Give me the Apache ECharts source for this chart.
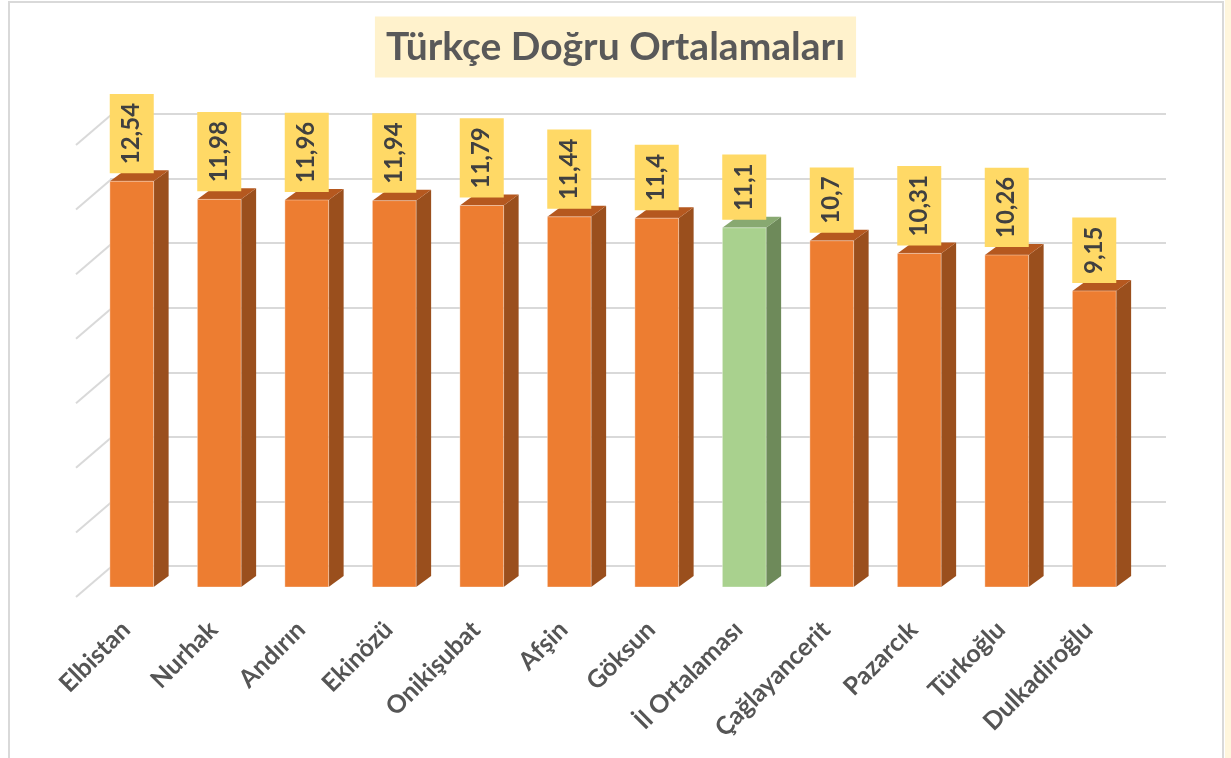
<!DOCTYPE html>
<html>
<head>
<meta charset="utf-8">
<title>Türkçe Doğru Ortalamaları</title>
<script src="https://cdn.jsdelivr.net/npm/echarts@6/dist/echarts.min.js"></script>
<style>
  html, body { margin: 0; padding: 0; background: #fff; }
  #main { width: 1231px; height: 758px; }
</style>
</head>
<body>
<div id="main"></div>
<script>
var names = ['Elbistan', 'Nurhak', 'Andırın', 'Ekinözü', 'Onikişubat', 'Afşin', 'Göksun', 'İl Ortalaması', 'Çağlayancerit', 'Pazarcık', 'Türkoğlu', 'Dulkadiroğlu']
var values = [12.54, 11.98, 11.96, 11.94, 11.79, 11.44, 11.4, 11.1, 10.7, 10.31, 10.26, 9.15]
var gridTicks = [0, 2, 4, 6, 8, 10, 12, 14]
var averageName = 'İl Ortalaması'

var orange = { front: '#ED7D31', side: '#9A4F1D', top: '#B5581F' }
var green = { front: '#A9D18E', side: '#6E8A5A', top: '#88A971' }
var depthX = 15
var depthY = -11

var myChart = echarts.init(document.querySelector('#main'))

function renderBar (params, api) {
  var i = api.value(0)
  var v = api.value(1)
  var top = api.coord([i, v])
  var base = api.coord([i, 0])
  var w = api.size([1, 0])[0] * 0.5
  var x0 = top[0] - w / 2
  var x1 = top[0] + w / 2
  var c = names[i] === averageName ? green : orange
  return {
    type: 'group',
    children: [
      { type: 'polygon', shape: { points: [[x1, top[1]], [x1 + depthX, top[1] + depthY], [x1 + depthX, base[1] + depthY], [x1, base[1]]] }, style: { fill: c.side } },
      { type: 'polygon', shape: { points: [[x0, top[1]], [x1, top[1]], [x1 + depthX, top[1] + depthY], [x0 + depthX, top[1] + depthY]] }, style: { fill: c.top } },
      { type: 'rect', shape: { x: x0, y: top[1], width: w, height: base[1] - top[1] }, style: { fill: c.front, stroke: 'rgba(255,255,255,0.35)', lineWidth: 1 } },
      {
        type: 'text',
        x: top[0],
        y: top[1] - 8,
        rotation: Math.PI / 2,
        z2: 10,
        style: {
          text: String(v).replace('.', ','),
          fill: '#404040',
          font: 'bold 24px Lato',
          align: 'left',
          verticalAlign: 'middle',
          lineHeight: 24,
          backgroundColor: '#FFD966',
          padding: [10, 9, 10, 9]
        }
      }
    ]
  }
}

// side wall gridlines going toward the viewer
function renderSideLine (params, api) {
  var p = api.coord([0, api.value(1)])
  return {
    type: 'line',
    shape: { x1: p[0] + 1, y1: p[1] + 1, x2: p[0] - 34, y2: p[1] + 31 },
    style: { stroke: '#D9D9D9', lineWidth: 2 }
  }
}

var option = {
  backgroundColor: '#fff',
  animation: false,
  title: {
    text: 'Türkçe Doğru Ortalamaları',
    left: 'center',
    top: 17,
    backgroundColor: '#FFF2CC',
    padding: [11, 11, 11, 11],
    textStyle: {
      fontFamily: 'Lato',
      fontWeight: 'bold',
      fontSize: 39,
      lineHeight: 38,
      color: '#595959'
    }
  },
  grid: [
    { left: 110, right: 65, top: 114, bottom: 192 },
    { left: 88, right: 93, top: 134, bottom: 171 }
  ],
  xAxis: [
    { gridIndex: 0, type: 'value', min: 0, max: 1, show: false },
    {
      gridIndex: 1,
      type: 'category',
      data: names,
      axisLine: { show: false },
      axisTick: { show: false },
      axisLabel: {
        rotate: 45,
        margin: 33,
        padding: [0, 8, 0, 0],
        interval: 0,
        color: '#555555',
        fontFamily: 'Lato',
        fontWeight: 'bold',
        fontSize: 25
      }
    }
  ],
  yAxis: [
    {
      gridIndex: 0,
      type: 'value',
      min: 0,
      max: 14,
      interval: 2,
      axisLine: { show: false },
      axisTick: { show: false },
      axisLabel: { show: false },
      splitLine: { lineStyle: { color: '#D9D9D9', width: 2 } }
    },
    { gridIndex: 1, type: 'value', min: 0, max: 14, interval: 2, show: false, splitLine: { show: false } }
  ],
  graphic: [
    { type: 'rect', shape: { x: 1225, y: 0, width: 6, height: 758 }, style: { fill: '#FFF6DD' }, z: -1 },
    { type: 'rect', shape: { x: 9, y: 2, width: 1214, height: 770 }, style: { fill: 'none', stroke: '#D9D9D9', lineWidth: 2 }, z: -1 }
  ],
  series: [
    {
      type: 'custom',
      xAxisIndex: 0,
      yAxisIndex: 0,
      silent: true,
      renderItem: renderSideLine,
      data: gridTicks.map(function (t) { return [0, t] })
    },
    {
      type: 'custom',
      xAxisIndex: 1,
      yAxisIndex: 1,
      renderItem: renderBar,
      data: values.map(function (v, i) { return [i, v] })
    }
  ]
}

myChart.setOption(option)
</script>
</body>
</html>
